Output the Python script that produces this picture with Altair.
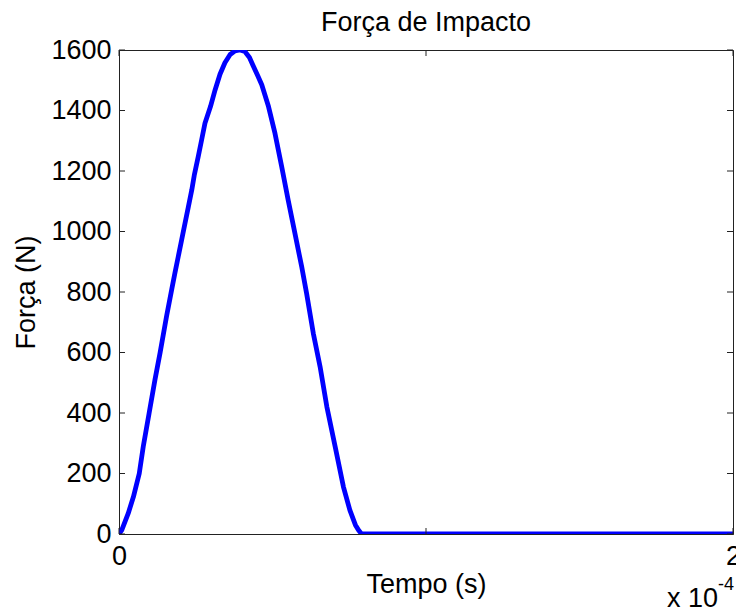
import altair as alt
import pandas as pd

# Impact force pulse: time in units of 1e-4 s, force in newtons
time_e4 = [0.000, 0.009, 0.030, 0.047, 0.066, 0.079, 0.098, 0.117, 0.134, 0.155,
           0.172, 0.182, 0.193, 0.204, 0.215, 0.226, 0.237, 0.245, 0.258, 0.269,
           0.280, 0.298, 0.313, 0.329, 0.345, 0.362, 0.378, 0.394, 0.410, 0.425,
           0.437, 0.452, 0.465, 0.487, 0.508, 0.530, 0.551, 0.573, 0.595, 0.611,
           0.633, 0.655, 0.677, 0.704, 0.731, 0.752, 0.770, 0.780, 0.790, 2.000]
force_n = [0, 13, 68, 123, 200, 289, 399, 509, 600, 720,
           810, 862, 917, 972, 1027, 1082, 1137, 1185, 1247, 1302,
           1358, 1413, 1468, 1520, 1558, 1585, 1597, 1600, 1595, 1575,
           1548, 1515, 1485, 1413, 1325, 1214, 1104, 994, 884, 796,
           663, 553, 421, 289, 156, 79, 30, 13, 0, 0]

x_ticks = [0, 1, 2]
y_ticks = [0, 200, 400, 600, 800, 1000, 1200, 1400, 1600]
exponent_base = ["x 10"]
exponent_power = ["-4"]

FONT = "Liberation Sans"
INK = "#222222"
W, H = 614, 484
TICK = 6

curve = pd.DataFrame({"t": time_e4, "F": force_n})
xt = pd.DataFrame({"t": x_ticks})
yt = pd.DataFrame({"F": y_ticks})

x_scale = alt.Scale(domain=[0, 2], nice=False, zero=False)
y_scale = alt.Scale(domain=[0, 1600], nice=False)

line = alt.Chart(curve).mark_line(color="#0000FF", strokeWidth=4.8, clip=True,
                                  strokeJoin="round").encode(
    x=alt.X("t:Q", scale=x_scale,
            axis=alt.Axis(values=x_ticks, format="d", title="Tempo (s)",
                          labelFlush=False, labelOverlap=False, labelPadding=9,
                          titleY=58, titleBaseline="alphabetic")),
    y=alt.Y("F:Q", scale=y_scale,
            axis=alt.Axis(values=y_ticks, format="d", title="Força (N)",
                          labelOverlap=False, labelPadding=8,
                          titleAngle=270, titleX=-85, titleY=H / 2,
                          titleBaseline="alphabetic", titleAlign="center")),
)

# inward tick marks on all four sides of the box
x_bottom = alt.Chart(xt).mark_rule(color=INK, strokeWidth=1).encode(
    x=alt.X("t:Q", scale=x_scale), y=alt.value(H), y2=alt.value(H - TICK))
x_top = alt.Chart(xt).mark_rule(color=INK, strokeWidth=1).encode(
    x=alt.X("t:Q", scale=x_scale), y=alt.value(0), y2=alt.value(TICK))
y_left = alt.Chart(yt).mark_rule(color=INK, strokeWidth=1).encode(
    y=alt.Y("F:Q", scale=y_scale), x=alt.value(0), x2=alt.value(TICK))
y_right = alt.Chart(yt).mark_rule(color=INK, strokeWidth=1).encode(
    y=alt.Y("F:Q", scale=y_scale), x=alt.value(W), x2=alt.value(W - TICK))

# axis multiplier "x 10^-4"
mult = alt.Chart(pd.DataFrame({"s": exponent_base})).mark_text(
    font=FONT, fontSize=27, color="black", align="left", baseline="alphabetic"
).encode(x=alt.value(548), y=alt.value(557), text="s:N")
power = alt.Chart(pd.DataFrame({"s": exponent_power})).mark_text(
    font=FONT, fontSize=18, color="black", align="left", baseline="alphabetic"
).encode(x=alt.value(599), y=alt.value(540), text="s:N")

chart = alt.layer(line, x_bottom, x_top, y_left, y_right, mult, power).properties(
    width=W,
    height=H,
    background="white",
    autosize=alt.AutoSizeParams(type="none"),
    padding={"left": 119, "top": 50, "right": 3, "bottom": 76},
    title=alt.Title("Força de Impacto", font=FONT, fontSize=27, fontWeight="normal",
                    color="black", anchor="middle", offset=-1),
).configure_view(
    stroke=INK, strokeWidth=1
).configure_axis(
    grid=False, tickSize=0, domainColor=INK, domainWidth=1,
    labelFont=FONT, labelFontSize=27, labelColor="black",
    titleFont=FONT, titleFontSize=27, titleFontWeight="normal", titleColor="black",
)

chart.save("out.html", embed_options={"renderer": "svg", "actions": False})
